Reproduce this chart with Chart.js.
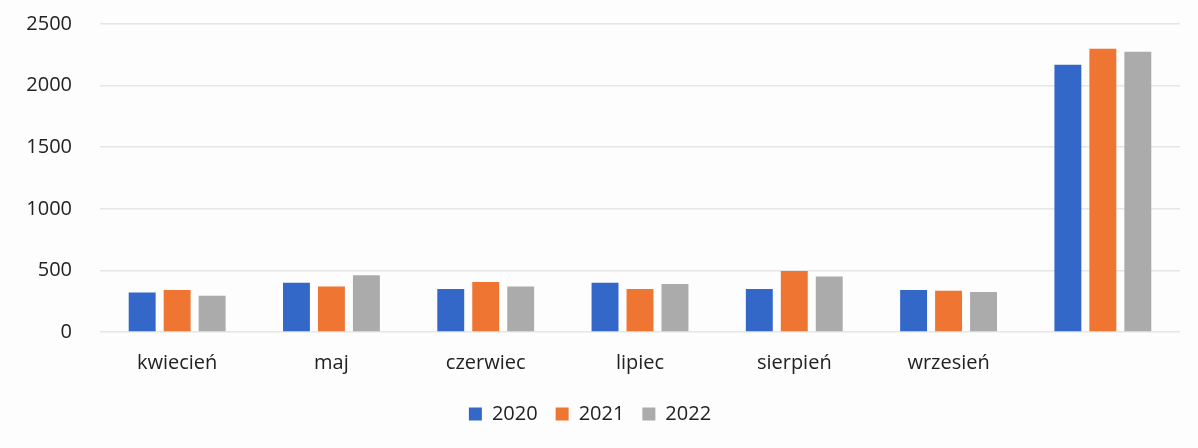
<!DOCTYPE html>
<html>
<head>
<meta charset="utf-8">
<script src="https://cdn.jsdelivr.net/npm/chart.js@4"></script>
<style>
  html, body { margin: 0; padding: 0; background: #fdfdfd; }
  #wrap { width: 1198px; height: 448px; }
</style>
</head>
<body>
<div id="wrap"><canvas id="chart"></canvas></div>
<script>
// dane
const kategorie = ['kwiecień', 'maj', 'czerwiec', 'lipiec', 'sierpień', 'wrzesień', ''];
const rok2020 = [320, 400, 350, 400, 350, 340, 2170];
const rok2021 = [340, 370, 405, 350, 495, 335, 2300];
const rok2022 = [295, 460, 370, 390, 450, 325, 2275];
const osY = [0, 500, 1000, 1500, 2000, 2500];

const kolory = ['#3468c8', '#ee7532', '#ababab'];
const czcionka = "'Open Sans', 'Liberation Sans', sans-serif";

const zestaw = (label, data, color) => ({
  label: label,
  data: data,
  backgroundColor: color,
  borderWidth: 0,
  categoryPercentage: 0.68,
  barPercentage: 0.77
});

new Chart(document.getElementById('chart'), {
  type: 'bar',
  data: {
    labels: kategorie,
    datasets: [
      zestaw('2020', rok2020, kolory[0]),
      zestaw('2021', rok2021, kolory[1]),
      zestaw('2022', rok2022, kolory[2])
    ]
  },
  options: {
    responsive: true,
    maintainAspectRatio: false,
    animation: false,
    layout: { padding: { left: 0, right: 18, top: 24, bottom: 14 } },
    plugins: {
      tooltip: { enabled: false },
      legend: {
        position: 'bottom',
        labels: {
          boxWidth: 13,
          boxHeight: 13,
          padding: 18,
          color: '#222',
          font: { family: czcionka, size: 20 }
        }
      }
    },
    scales: {
      x: {
        grid: { display: false },
        border: { display: false },
        ticks: { color: '#222', padding: 11, font: { family: czcionka, size: 20 } }
      },
      y: {
        min: 0,
        max: 2500,
        // stała szerokość osi; padding ticków nie ma zabierać miejsca w pionie
        afterFit: s => { s.width = 100; s.paddingTop = 0; s.paddingBottom = 0; },
        afterBuildTicks: s => { s.ticks = osY.map(v => ({ value: v })); },
        grid: { color: '#e6e6e6', lineWidth: 1.5, drawTicks: false },
        border: { display: false },
        ticks: {
          color: '#222',
          padding: 28,
          font: { family: czcionka, size: 20 },
          callback: v => String(v)
        }
      }
    }
  }
});
</script>
</body>
</html>
